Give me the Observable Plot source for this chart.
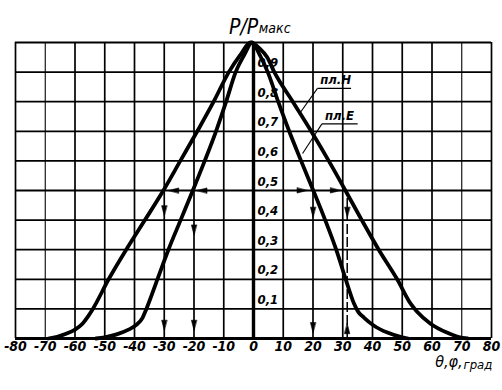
<!DOCTYPE html>
<html><head><meta charset="utf-8">
<script src="https://cdn.jsdelivr.net/npm/d3@7"></script>
<script src="https://cdn.jsdelivr.net/npm/@observablehq/plot@0.6"></script>
<style>body{margin:0;background:#fff}</style>
</head><body><div id="chart"></div>
<script>
// Axis ticks
const xTicks = [-80,-70,-60,-50,-40,-30,-20,-10,0,10,20,30,40,50,60,70,80];
const yTicks = [0,0.1,0.2,0.3,0.4,0.5,0.6,0.7,0.8,0.9,1];
const yLabelTicks = [0.1,0.2,0.3,0.4,0.5,0.6,0.7,0.8,0.9];

// Curve "пл.Н" (wider)
const angleH = [-69,-66,-63,-60,-57.5,-55.6,-54,-48.7,-42.8,-36.5,-30.3,-24.6,-18.9,-13.4,-8.3,-4.3,-1,2,4.6,7,13.2,19.4,25.3,30.9,36.4,42.1,48.3,53,55,59.5,65,69,72];
const powerH = [0,0.006,0.016,0.03,0.05,0.075,0.10,0.20,0.30,0.40,0.50,0.60,0.70,0.80,0.90,0.96,1.0,0.98,0.95,0.90,0.80,0.70,0.60,0.50,0.40,0.30,0.20,0.115,0.09,0.05,0.02,0.005,0];

// Curve "пл.Е" (narrower)
const angleE = [-53,-50,-46,-42,-39.5,-37.3,-36,-32.3,-28.6,-24.5,-20.4,-16.4,-12.6,-9.2,-6,-3,-0.5,2,4.8,8.3,12,16,20.1,24.1,27.8,31,33.7,35.2,37.2,40.4,45,50,52];
const powerE = [0,0.004,0.014,0.03,0.045,0.07,0.10,0.20,0.30,0.40,0.50,0.60,0.70,0.80,0.90,0.96,1.0,0.96,0.90,0.80,0.70,0.60,0.50,0.40,0.30,0.20,0.12,0.09,0.07,0.044,0.02,0.004,0];

// Arrow heads (tip position in data units, direction in degrees clockwise from up)
const arrowX = [-28.5,-19,18,29.2,-30,-20,-30,-20,20,20,31.5,31.5];
const arrowY = [0.5,0.5,0.5,0.5,0.415,0.35,0.028,0.028,0.41,0.02,0.41,0.05];
const arrowDir = [270,270,90,90,180,180,180,180,180,180,180,0];

// Dashed guide
const dashX = [31.5];

// Curve labels
const labelText = ["пл.Н","пл.Е"];
const labelX = [22.4,24.0];
const labelY = [0.875,0.752];
const underX1 = [21.5,23.0];
const underX2 = [32.8,35.0];
const underY = [0.845,0.725];
const leaderX2 = [15.5,16.5];
const leaderY2 = [0.76,0.625];

const H = angleH.map((a,i)=>({a, p: powerH[i]}));
const E = angleE.map((a,i)=>({a, p: powerE[i]}));
const arrows = arrowX.map((x,i)=>({x, y: arrowY[i], r: arrowDir[i]}));
const labels = labelText.map((t,i)=>({t, x: labelX[i], y: labelY[i], ux1: underX1[i], ux2: underX2[i], uy: underY[i], lx: leaderX2[i], ly: leaderY2[i]}));

const head = { draw(ctx, l, r) { ctx.moveTo(0, -l); ctx.lineTo(r, 0); ctx.lineTo(-r, 0); ctx.closePath(); } };
const FONT = "'DejaVu Sans Condensed', 'DejaVu Sans', sans-serif";
const fmt = d => (d < 0 ? "-" : "") + Math.abs(d);

const chart = Plot.plot({
  width: 502, height: 390,
  marginLeft: 15, marginRight: 11, marginTop: 42, marginBottom: 52,
  style: {background: "#fff", color: "#000", fontFamily: FONT},
  x: {domain: [-80, 80], axis: null},
  y: {domain: [0, 1], axis: null},
  marks: [
    Plot.ruleX(xTicks, {stroke: "#000", strokeWidth: d => (d === -70 || d === 70) ? 1.1 : 1.7}),
    Plot.ruleY(yTicks, {stroke: "#000", strokeWidth: 1.8}),
    Plot.ruleY([0], {stroke: "#000", strokeWidth: 3}),
    Plot.ruleX([0], {stroke: "#000", strokeWidth: 3.4}),
    Plot.ruleX(dashX, {y1: 0, y2: 0.5, stroke: "#000", strokeWidth: 1.5, strokeDasharray: "10,3"}),
    Plot.line(H, {x: "a", y: "p", curve: "monotone-x", stroke: "#000", strokeWidth: 3.8}),
    Plot.line(E, {x: "a", y: "p", curve: "monotone-x", stroke: "#000", strokeWidth: 3.8}),
    Plot.vector(arrows, {x: "x", y: "y", rotate: "r", length: 10, r: 2.6, anchor: "end", shape: head, fill: "#000", stroke: "#000", strokeWidth: 0.6}),
    // y labels
    Plot.text(yLabelTicks, {x: 0, y: d => d, text: d => "0," + Math.round(d*10), textAnchor: "start", dx: 4, dy: -9,
      fontSize: 13, fontStyle: "italic", fontWeight: "bold", fontFamily: FONT, fill: "#000"}),
    // x tick labels
    Plot.text(xTicks, {x: d => d, frameAnchor: "bottom", text: fmt, dy: 12,
      fontSize: 14, fontStyle: "italic", fontWeight: "bold", fontFamily: FONT, fill: "#000"}),
    // title
    Plot.text(["P/P"], {x: 1.6, frameAnchor: "top", dy: -23, textAnchor: "end", fontSize: 21, fontStyle: "italic", fontFamily: FONT, fill: "#000"}),
    Plot.text(["макс"], {x: 1.8, frameAnchor: "top", dy: -19, textAnchor: "start", fontSize: 14, fontStyle: "italic", fontFamily: FONT, fill: "#000"}),
    // x axis label
    Plot.text(["θ,φ,"], {x: 70.3, frameAnchor: "bottom", dy: 28, textAnchor: "end", fontSize: 16, fontStyle: "italic", fontFamily: FONT, fill: "#000"}),
    Plot.text(["град"], {x: 70.6, frameAnchor: "bottom", dy: 30, textAnchor: "start", fontSize: 13, fontStyle: "italic", fontFamily: FONT, fill: "#000"}),
    // curve labels
    Plot.link(labels, {x1: "ux1", x2: "ux2", y1: "uy", y2: "uy", stroke: "#000", strokeWidth: 1.2}),
    Plot.link(labels, {x1: "ux1", y1: "uy", x2: "lx", y2: "ly", stroke: "#000", strokeWidth: 1.1}),
    Plot.text(labels, {x: "x", y: "y", text: "t", textAnchor: "start", fontSize: 13, fontStyle: "italic", fontWeight: "bold", fontFamily: FONT, fill: "#000"})
  ]
});
document.getElementById("chart").appendChild(chart);
</script>
</body></html>
